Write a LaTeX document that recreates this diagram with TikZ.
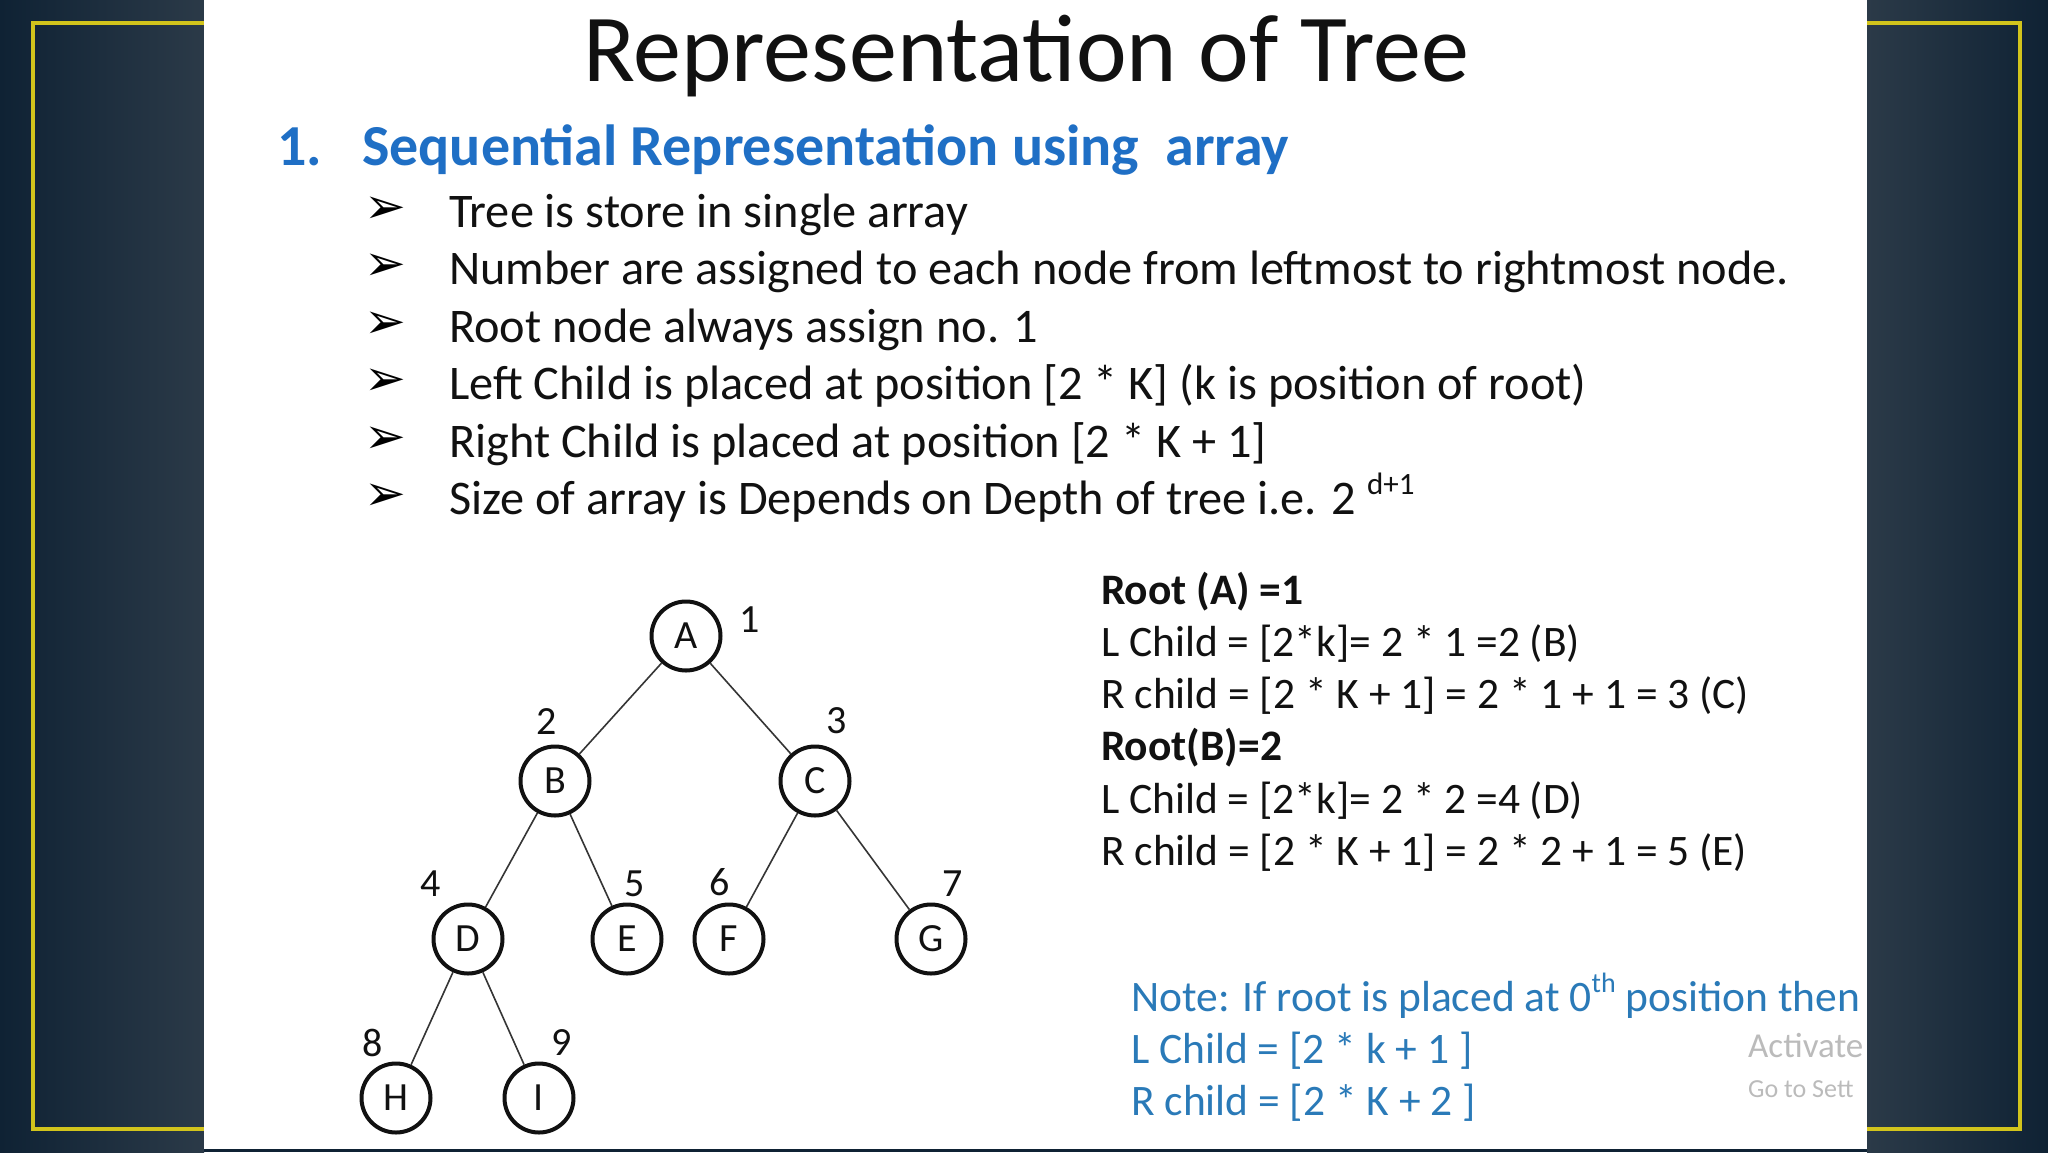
\documentclass[tikz,border=0pt]{standalone}
\usepackage{fontspec}
\setmainfont{Carlito}
\newfontfamily\dejavu{DejaVu Sans}
\definecolor{bgdark}{HTML}{0F2234}
\definecolor{bglight}{HTML}{2B3A48}
\definecolor{frameyel}{HTML}{D2C41C}
\definecolor{headblue}{HTML}{1F6FC5}
\definecolor{noteblue}{HTML}{2A7AB8}
\definecolor{txt}{HTML}{111111}
\definecolor{wm}{HTML}{BBBBBB}
\begin{document}
\begin{tikzpicture}[x=1pt,y=-1pt,
  tnode/.style={circle, draw=txt, line width=4pt, minimum size=69pt, inner sep=0pt, text=txt, font=\fontsize{40}{48}\selectfont},
  num/.style={inner sep=0pt, text=txt, font=\fontsize{40}{48}\selectfont},
  edgeline/.style={line width=1.6pt, draw=txt!85},
  body/.style={anchor=base west, inner sep=0pt, text=txt, font=\fontsize{48.3}{58}\selectfont},
  bul/.style={anchor=west, inner sep=0pt, text=black, font=\dejavu\fontsize{50}{56}\selectfont},
  rtext/.style={anchor=base west, inner sep=0pt, text=txt, font=\fontsize{43.5}{52}\selectfont},
  rbold/.style={rtext, font=\bfseries\fontsize{43.5}{52}\selectfont},
  note/.style={anchor=base west, inner sep=0pt, text=noteblue, font=\fontsize{43.5}{52}\selectfont},
]
\useasboundingbox (0,0) rectangle (2048,1152);
% background panels
\shade[left color=bgdark, right color=bglight] (0,0) rectangle (204,1152);
\shade[left color=bglight, right color=bgdark] (1867,0) rectangle (2048,1152);
\fill[bgdark] (204,1149) rectangle (1867,1152);
% yellow frame
\draw[frameyel, line width=3.5pt] (33,23) rectangle (2020,1129);
% white slide
\fill[white] (204,0) rectangle (1867,1149);

% title
\node[anchor=base, inner sep=0pt, text=txt, font=\fontsize{96}{110}\selectfont] (title) at (1026,81) {Representation of Tree};
% heading
\node[anchor=base west, inner sep=0pt, text=headblue, font=\bfseries\fontsize{58}{66}\selectfont] (hnum) at (277,165) {1.};
\node[anchor=base west, inner sep=0pt, text=headblue, font=\bfseries\fontsize{58}{66}\selectfont] (head) at (362,165) {Sequential Representation using\ \ array};

% bullets
\node[bul] (b1) at (364,210) {➢};
\node[bul] (b2) at (364,267.5) {➢};
\node[bul] (b3) at (364,325) {➢};
\node[bul] (b4) at (364,382.5) {➢};
\node[bul] (b5) at (364,440) {➢};
\node[bul] (b6) at (364,497.5) {➢};
\node[body] (t1) at (449,227) {Tree is store in single array};
\node[body] (t2) at (449,284.5) {Number are assigned to each node from leftmost to rightmost node.};
\node[body] (t3) at (449,342) {Root node always assign no. 1};
\node[body] (t4) at (449,399.5) {Left Child is placed at position [2 * K] (k is position of root)};
\node[body] (t5) at (449,457) {Right Child is placed at position [2 * K + 1]};
\node[body] (t6) at (449,514.5) {Size of array is Depends on Depth of tree i.e. 2 \raisebox{0.42em}{\fontsize{31}{36}\selectfont d+1}};

% tree
\node[tnode] (A) at (686,636) {A};
\node[tnode] (B) at (555,781) {B};
\node[tnode] (C) at (815,781) {C};
\node[tnode] (D) at (468,939) {D};
\node[tnode] (E) at (627,939) {E};
\node[tnode] (F) at (729,939) {F};
\node[tnode] (G) at (931,939) {G};
\node[tnode] (H) at (396,1098) {H};
\node[tnode] (I) at (539,1098) {I};
\draw[edgeline] (A) -- (B);
\draw[edgeline] (A) -- (C);
\draw[edgeline] (B) -- (D);
\draw[edgeline] (B) -- (E);
\draw[edgeline] (C) -- (F);
\draw[edgeline] (C) -- (G);
\draw[edgeline] (D) -- (H);
\draw[edgeline] (D) -- (I);
\node[num] (n1) at (750,620) {1};
\node[num] (n2) at (547,722) {2};
\node[num] (n3) at (837,721) {3};
\node[num] (n4) at (431,884) {4};
\node[num] (n5) at (635,884) {5};
\node[num] (n6) at (720,882) {6};
\node[num] (n7) at (953,884) {7};
\node[num] (n8) at (373,1043) {8};
\node[num] (n9) at (562,1043) {9};

% right text
\node[rbold] (r1) at (1101,604) {Root (A) =1};
\node[rtext] (r2) at (1101,656) {L Child = [2*k]= 2 * 1 =2 (B)};
\node[rtext] (r3) at (1101,708.5) {R child = [2 * K + 1] = 2 * 1 + 1 = 3 (C)};
\node[rbold] (r4) at (1101,760.5) {Root(B)=2};
\node[rtext] (r5) at (1101,813) {L Child = [2*k]= 2 * 2 =4 (D)};
\node[rtext] (r6) at (1101,865) {R child = [2 * K + 1] = 2 * 2 + 1 = 5 (E)};

% note
\node[note] (nt1) at (1131,1011) {Note: If root is placed at 0\raisebox{0.42em}{\fontsize{28}{32}\selectfont th} position then};
\node[note] (nt2) at (1131,1063) {L Child = [2 * k + 1 ]};
\node[note] (nt3) at (1131,1115) {R child = [2 * K + 2 ]};

% watermark as shown (cut at slide edge in the reference)
\node[anchor=base west, inner sep=0pt, text=wm, font=\fontsize{35}{42}\selectfont] (wm1) at (1748,1057) {Activate};
\node[anchor=base west, inner sep=0pt, text=wm, font=\fontsize{26}{32}\selectfont] (wm2) at (1748,1097) {Go to Sett};
\end{tikzpicture}
\end{document}
